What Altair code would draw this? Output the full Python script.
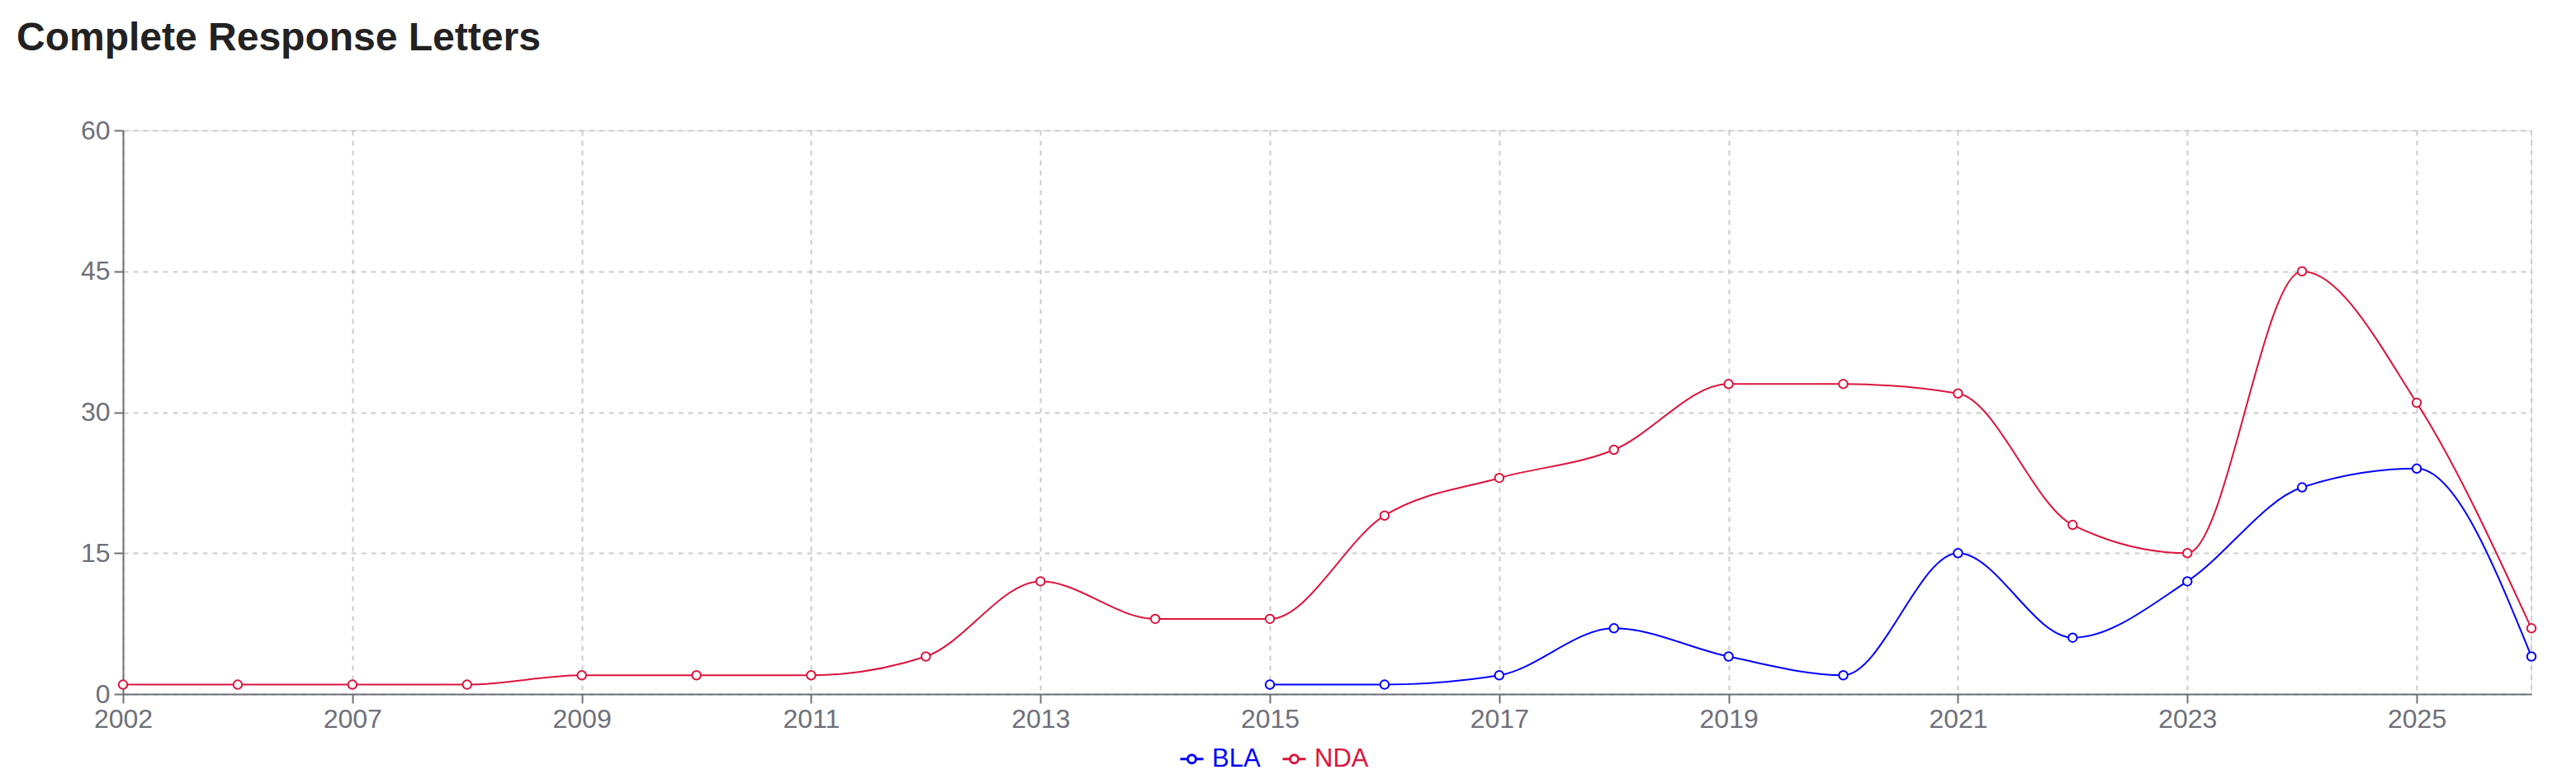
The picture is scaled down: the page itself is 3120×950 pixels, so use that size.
import altair as alt
import pandas as pd

# ---- data ----
years = ["2002", "2005", "2007", "2008", "2009", "2010", "2011", "2012", "2013",
         "2014", "2015", "2016", "2017", "2018", "2019", "2020", "2021", "2022",
         "2023", "2024", "2025", "2026"]
nda_values = [1, 1, 1, 1, 2, 2, 2, 4, 12, 8, 8, 19, 23, 26, 33, 33, 32, 18, 15, 45, 31, 7]
bla_years = ["2015", "2016", "2017", "2018", "2019", "2020", "2021", "2022",
             "2023", "2024", "2025", "2026"]
bla_values = [1, 1, 2, 7, 4, 2, 15, 6, 12, 22, 24, 4]
labeled_years = ["2002", "2007", "2009", "2011", "2013", "2015", "2017", "2019",
                 "2021", "2023", "2025"]
y_ticks = [0, 15, 30, 45, 60]
series_names = ["BLA", "NDA"]
series_colors = ["#0000ff", "#dc143c"]

rows = [{"year": y, "count": v, "type": "BLA"} for y, v in zip(bla_years, bla_values)]
rows += [{"year": y, "count": v, "type": "NDA"} for y, v in zip(years, nda_values)]
df = pd.DataFrame(rows)

FONT = "Liberation Sans"
AXIS_COLOR = "#6E7079"
GRID_COLOR = "#cccccc"

x_scale = alt.Scale(type="point", padding=0, domain=years)
y_scale = alt.Scale(domain=[0, 60])

x_axis = alt.Axis(values=labeled_years, grid=True, gridDash=[6, 6], gridColor=GRID_COLOR,
                  gridWidth=2, domainColor=AXIS_COLOR, domainWidth=2, tickColor=AXIS_COLOR,
                  tickWidth=2, tickSize=11, labelFontSize=32, labelFont=FONT,
                  labelColor=AXIS_COLOR, labelPadding=4, labelAngle=0,
                  labelAlign="center", labelBaseline="top", labelFlush=False,
                  labelOverlap=False, title=None)
y_axis = alt.Axis(values=y_ticks, grid=True, gridDash=[6, 6], gridColor=GRID_COLOR,
                  gridWidth=2, domainColor=AXIS_COLOR, domainWidth=2, tickColor=AXIS_COLOR,
                  tickWidth=2, tickSize=11, labelFontSize=32, labelFont=FONT,
                  labelColor=AXIS_COLOR, labelPadding=5, title=None)

legend_symbol = ("M-1,0L-0.36,0M0.36,0L1,0"
                 "M-0.36,0A0.36,0.36 0 1,0 0.36,0A0.36,0.36 0 1,0 -0.36,0Z")

color = alt.Color("type:N",
                  scale=alt.Scale(domain=series_names, range=series_colors),
                  legend=alt.Legend(orient="none", legendX=1279, legendY=746,
                                    direction="horizontal", title=None,
                                    labelFontSize=31, labelFont=FONT,
                                    labelColor={"expr": "datum.label == 'BLA' ? '#0000ff' : '#dc143c'"},
                                    symbolType=legend_symbol, symbolSize=784,
                                    symbolStrokeWidth=3, symbolFillColor="white",
                                    labelOffset=9, columnPadding=20, padding=0))

base = alt.Chart(df).encode(
    x=alt.X("year:O", scale=x_scale, axis=x_axis, sort=years),
    y=alt.Y("count:Q", scale=y_scale, axis=y_axis),
    color=color,
    detail="type:N",
)

edge_rule = alt.Chart(pd.DataFrame({"year": [years[-1]]})).mark_rule(
    color=GRID_COLOR, strokeDash=[6, 6], strokeWidth=2
).encode(x=alt.X("year:O", scale=x_scale, sort=years))

lines = base.mark_line(interpolate="monotone", strokeWidth=2)
points = base.mark_point(filled=False, fill="white", fillOpacity=1, size=110,
                         strokeWidth=2, opacity=1)

chart = alt.layer(edge_rule, lines, points).properties(
    width=2917,
    height=683,
    autosize=alt.AutoSizeParams(type="none"),
    padding={"left": 141, "top": 150, "right": 40, "bottom": 120},
    title=alt.TitleParams("Complete Response Letters", anchor="start", frame="group",
                          dx=-129, fontSize=48, fontWeight="bold", font=FONT,
                          color="#222222", offset=33, baseline="alphabetic"),
).configure_view(stroke=None).configure(background="white")

chart.save("out.html", embed_options={"renderer": "svg", "actions": False})
